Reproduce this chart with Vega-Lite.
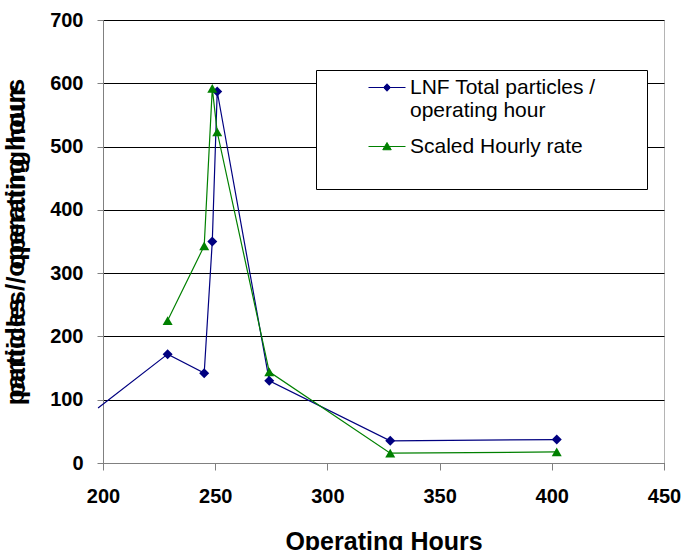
{
  "$schema": "https://vega.github.io/schema/vega-lite/v6.json",
  "width": 561,
  "height": 443,
  "autosize": {"type": "none"},
  "padding": {"left": 103, "top": 20, "right": 17, "bottom": 87},
  "background": "white",
  "config": {
    "font": "Liberation Sans",
    "view": {"stroke": "#b4b4b4", "strokeWidth": 1}
  },
  "data": {
    "values": [
      {"hours": 197.8, "value": 87, "series": "LNF Total particles / operating hour"},
      {"hours": 228.8, "value": 172, "series": "LNF Total particles / operating hour"},
      {"hours": 245.1, "value": 142, "series": "LNF Total particles / operating hour"},
      {"hours": 248.7, "value": 350, "series": "LNF Total particles / operating hour"},
      {"hours": 250.9, "value": 587, "series": "LNF Total particles / operating hour"},
      {"hours": 274.1, "value": 130, "series": "LNF Total particles / operating hour"},
      {"hours": 328.0, "value": 35, "series": "LNF Total particles / operating hour"},
      {"hours": 402.2, "value": 37, "series": "LNF Total particles / operating hour"},
      {"hours": 228.8, "value": 225, "series": "Scaled Hourly rate"},
      {"hours": 245.1, "value": 343, "series": "Scaled Hourly rate"},
      {"hours": 248.7, "value": 592, "series": "Scaled Hourly rate"},
      {"hours": 250.9, "value": 523, "series": "Scaled Hourly rate"},
      {"hours": 274.1, "value": 144, "series": "Scaled Hourly rate"},
      {"hours": 328.0, "value": 15.5, "series": "Scaled Hourly rate"},
      {"hours": 402.2, "value": 17.5, "series": "Scaled Hourly rate"}
    ]
  },
  "encoding": {
    "x": {
      "field": "hours",
      "type": "quantitative",
      "scale": {"domain": [200, 450], "nice": false, "zero": false},
      "axis": {
        "values": [200, 250, 300, 350, 400, 450],
        "grid": false,
        "title": "Operating Hours",
        "titleFontSize": 25,
        "titleFontWeight": "bold",
        "titleColor": "black",
        "titlePadding": 23,
        "labelFontSize": 20,
        "labelFontWeight": "bold",
        "labelColor": "black",
        "labelPadding": 16,
        "tickSize": 7,
        "tickColor": "#808080",
        "domainColor": "#808080",
        "labelFlush": false
      }
    },
    "y": {
      "field": "value",
      "type": "quantitative",
      "scale": {"domain": [0, 700], "nice": false},
      "axis": {
        "values": [0, 100, 200, 300, 400, 500, 600, 700],
        "grid": true,
        "gridColor": "black",
        "gridWidth": 1,
        "gridOpacity": 1,
        "title": ["particles / operating hours", "particles / operating hour"],
        "titleLineHeight": 1,
        "titleFontSize": 26,
        "titleFontWeight": "bold",
        "titleColor": "black",
        "titlePadding": 20,
        "labelFontSize": 20,
        "labelFontWeight": "bold",
        "labelColor": "black",
        "labelPadding": 14,
        "tickSize": 6,
        "tickColor": "#808080",
        "domainColor": "#808080",
        "labelFlush": false
      }
    },
    "color": {
      "field": "series",
      "type": "nominal",
      "scale": {"domain": ["LNF Total particles / operating hour", "Scaled Hourly rate"], "range": ["#000080", "#008000"]},
      "legend": {
        "orient": "none",
        "legendX": 213,
        "legendY": 50,
        "title": " ",
        "titleOrient": "right",
        "titleFontSize": 130,
        "titlePadding": 44,
        "strokeColor": "black",
        "fillColor": "white",
        "padding": 7,
        "labelFont": "Liberation Sans",
        "labelFontSize": 21,
        "labelColor": "black",
        "labelLimit": 400,
        "labelExpr": "datum.value == 'LNF Total particles / operating hour' ? ['LNF Total particles /', 'operating hour'] : datum.label",
        "symbolSize": 100,
        "symbolOffset": 53.5,
        "labelOffset": 12.5,
        "rowPadding": 14,
        "symbolStrokeWidth": 1,
        "symbolOpacity": 1,
        "encode": {
          "symbols": {
            "update": {
              "shape": {"signal": "datum.value == 'Scaled Hourly rate' ? 'M-3.7,0H3.7M0,-0.8L0.85,0.65L-0.85,0.65Z' : 'M-3.7,0H3.7M0,-0.75L0.7,0L0,0.75L-0.7,0Z'"},
              "fill": {"signal": "datum.value == 'Scaled Hourly rate' ? '#008000' : '#000080'"},
              "stroke": {"signal": "datum.value == 'Scaled Hourly rate' ? '#008000' : '#000080'"}
            }
          }
        }
      }
    }
  },
  "layer": [
    {
      "mark": {"type": "line", "strokeWidth": 1.2}
    },
    {
      "transform": [{"filter": "datum.hours >= 200 && datum.series == 'LNF Total particles / operating hour'"}],
      "mark": {"type": "point", "filled": true, "size": 100, "opacity": 1, "shape": "diamond"}
    },
    {
      "transform": [{"filter": "datum.series == 'Scaled Hourly rate'"}],
      "mark": {"type": "point", "filled": true, "size": 100, "opacity": 1, "shape": "triangle-up"}
    }
  ]
}
